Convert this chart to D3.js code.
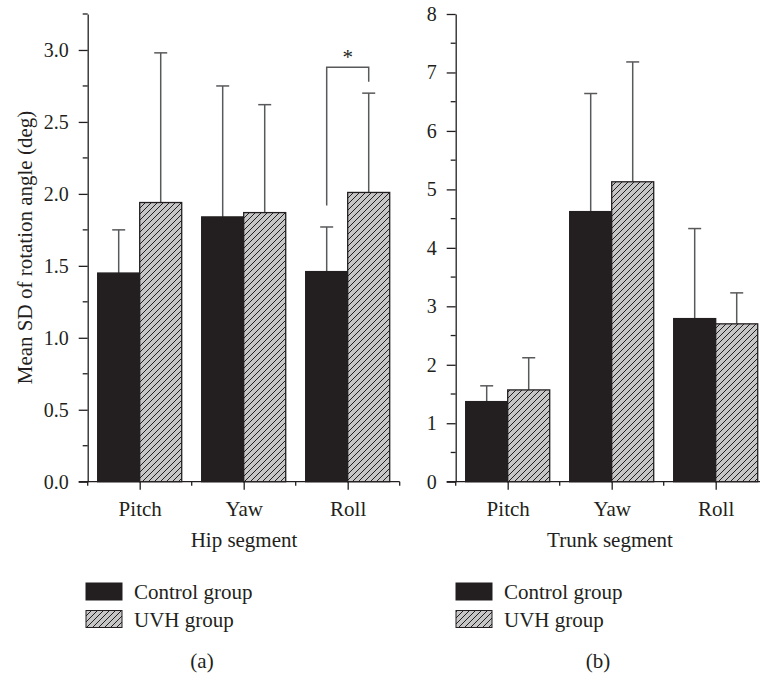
<!DOCTYPE html>
<html>
<head>
<meta charset="utf-8">
<script src="https://cdn.jsdelivr.net/npm/d3@7"></script>
<style>
  html, body { margin: 0; padding: 0; background: #fff; }
  svg { display: block; }
  text { font-family: "Liberation Serif", "DejaVu Serif", serif; fill: #231f20; }
</style>
</head>
<body>
<svg id="chart" width="760" height="676"></svg>
<script>
// Rotation variability per segment and axis (mean and SD, degrees)
const categories = ["Pitch", "Yaw", "Roll"];
const groups = ["Control group", "UVH group"];

const hipControl = [1.45, 1.84, 1.46];
const hipControlSD = [0.30, 0.91, 0.31];
const hipUVH = [1.94, 1.87, 2.01];
const hipUVHSD = [1.04, 0.75, 0.69];

const trunkControl = [1.37, 4.62, 2.79];
const trunkControlSD = [0.27, 2.02, 1.54];
const trunkUVH = [1.57, 5.13, 2.70];
const trunkUVHSD = [0.55, 2.05, 0.53];

const hipTicks = [0, 0.5, 1.0, 1.5, 2.0, 2.5, 3.0];
const hipMinor = [0.25, 0.75, 1.25, 1.75, 2.25, 2.75, 3.25];
const trunkTicks = [0, 1, 2, 3, 4, 5, 6, 7, 8];
const trunkMinor = [0.5, 1.5, 2.5, 3.5, 4.5, 5.5, 6.5, 7.5];

// significance bracket between control and UVH for hip roll
const hipSignif = { index: 2, left: 1.92, top: 2.88, right: 2.78, label: "*" };

const ink = "#231f20";
const errInk = "#58595b";
const svg = d3.select("#chart");

const defs = svg.append("defs");
const hatch = defs.append("pattern")
  .attr("id", "hatch")
  .attr("patternUnits", "userSpaceOnUse")
  .attr("width", 6).attr("height", 6);
hatch.append("rect").attr("width", 6).attr("height", 6).attr("fill", "#c6c6c6");
hatch.append("path")
  .attr("d", "M0,6 L6,0 M-1.5,1.5 L1.5,-1.5 M4.5,7.5 L7.5,4.5")
  .attr("stroke", ink).attr("stroke-width", 1);

const clip = defs.append("clipPath").attr("id", "page");
clip.append("rect").attr("width", 760).attr("height", 676);

function panel(opts) {
  const g = svg.append("g").attr("clip-path", "url(#page)");
  const y = d3.scaleLinear().domain(opts.yDomain).range([481.7, 14]);
  const x = d3.scaleLinear().domain([0.5, 3.5]).range([opts.x0, opts.x0 + 312]);
  const barW = x(1.404) - x(1);

  // y axis: labelled major ticks plus short minor ticks
  const yAxis = g.append("g").attr("transform", `translate(${opts.x0},0)`)
    .call(d3.axisLeft(y).tickValues(opts.ticks).tickFormat(opts.fmt)
      .tickSize(9).tickSizeOuter(0).tickPadding(10));
  yAxis.append("g").selectAll("line").data(opts.minor).join("line")
    .attr("x1", -5).attr("x2", 0).attr("y1", d => y(d)).attr("y2", d => y(d));
  yAxis.selectAll("line").attr("stroke", ink).attr("stroke-width", 1.3);
  yAxis.select(".domain").attr("stroke", ink).attr("stroke-width", 1.3);
  yAxis.selectAll(".tick text").attr("font-size", 20).attr("fill", ink)
    .style("font-family", '"Liberation Serif", serif');

  // x axis: category ticks long, band boundaries short
  const xAxis = g.append("g").attr("transform", "translate(0,481.7)")
    .call(d3.axisBottom(x).tickValues([1, 2, 3]).tickFormat((d, i) => categories[i])
      .tickSize(8).tickSizeOuter(0).tickPadding(11));
  xAxis.append("g").selectAll("line").data([0.5, 1.5, 2.5, 3.5]).join("line")
    .attr("x1", d => x(d)).attr("x2", d => x(d)).attr("y1", 0).attr("y2", 4);
  xAxis.select(".domain").attr("d", `M${opts.x0 - 9},0H${opts.x0 + 312}`);
  xAxis.selectAll("line").attr("stroke", ink).attr("stroke-width", 1.3);
  xAxis.select(".domain").attr("stroke", ink).attr("stroke-width", 1.3);
  xAxis.selectAll(".tick text").attr("font-size", 21).attr("fill", ink)
    .style("font-family", '"Liberation Serif", serif');

  const series = [
    { vals: opts.control, sd: opts.controlSD, fill: ink, off: -1 },
    { vals: opts.uvh, sd: opts.uvhSD, fill: "url(#hatch)", off: 0 }
  ];

  series.forEach(s => {
    const cx = i => x(i + 1) + s.off * barW + barW / 2;
    // error bars (upper only)
    const eb = g.append("g").attr("stroke", errInk).attr("stroke-width", 1.5);
    eb.selectAll("line.v").data(s.vals).join("line").attr("class", "v")
      .attr("x1", (d, i) => cx(i)).attr("x2", (d, i) => cx(i))
      .attr("y1", d => y(d)).attr("y2", (d, i) => y(d + s.sd[i]));
    eb.selectAll("line.c").data(s.vals).join("line").attr("class", "c")
      .attr("x1", (d, i) => cx(i) - 6.5).attr("x2", (d, i) => cx(i) + 6.5)
      .attr("y1", (d, i) => y(d + s.sd[i])).attr("y2", (d, i) => y(d + s.sd[i]));
    // bars
    g.append("g").selectAll("rect").data(s.vals).join("rect")
      .attr("x", (d, i) => x(i + 1) + s.off * barW)
      .attr("width", barW)
      .attr("y", d => y(d))
      .attr("height", d => y(0) - y(d))
      .attr("fill", s.fill)
      .attr("stroke", ink).attr("stroke-width", 1.3);
  });

  if (opts.signif) {
    const sg = opts.signif;
    const xl = x(sg.index + 1) - barW / 2;
    const xr = x(sg.index + 1) + barW / 2;
    g.append("path")
      .attr("d", `M${xl},${y(sg.left)}V${y(sg.top)}H${xr}V${y(sg.right)}`)
      .attr("fill", "none").attr("stroke", errInk).attr("stroke-width", 1.5);
    g.append("text").attr("x", (xl + xr) / 2).attr("y", y(sg.top) - 3)
      .attr("text-anchor", "middle").attr("font-size", 21).text(sg.label);
  }

  // segment title under categories
  svg.append("text").attr("x", opts.titleX).attr("y", 547)
    .attr("text-anchor", "middle").attr("font-size", 21).text(opts.title);

  // legend
  const lg = svg.append("g");
  const fills = [ink, "url(#hatch)"];
  groups.forEach((name, i) => {
    lg.append("rect").attr("x", opts.legendX).attr("y", 583 + i * 27.5)
      .attr("width", 36).attr("height", 17)
      .attr("fill", fills[i]).attr("stroke", ink).attr("stroke-width", 1);
    lg.append("text").attr("x", opts.legendX + 48).attr("y", 599 + i * 28)
      .attr("font-size", 21).text(name);
  });

  svg.append("text").attr("x", opts.tagX).attr("y", 668)
    .attr("text-anchor", "middle").attr("font-size", 21).text(opts.tag);
}

panel({
  x0: 87.7, yDomain: [0, 3.25], ticks: hipTicks, minor: hipMinor, fmt: d3.format(".1f"),
  control: hipControl, controlSD: hipControlSD, uvh: hipUVH, uvhSD: hipUVHSD,
  signif: hipSignif, title: "Hip segment", titleX: 244, legendX: 86, tag: "(a)", tagX: 202
});

panel({
  x0: 455.7, yDomain: [0, 8], ticks: trunkTicks, minor: trunkMinor, fmt: d3.format("d"),
  control: trunkControl, controlSD: trunkControlSD, uvh: trunkUVH, uvhSD: trunkUVHSD,
  signif: null, title: "Trunk segment", titleX: 610, legendX: 456, tag: "(b)", tagX: 598
});

// shared y axis title
svg.append("text")
  .attr("transform", "translate(32,247.5) rotate(-90)")
  .attr("text-anchor", "middle").attr("font-size", 21)
  .text("Mean SD of rotation angle (deg)");
</script>
</body>
</html>
